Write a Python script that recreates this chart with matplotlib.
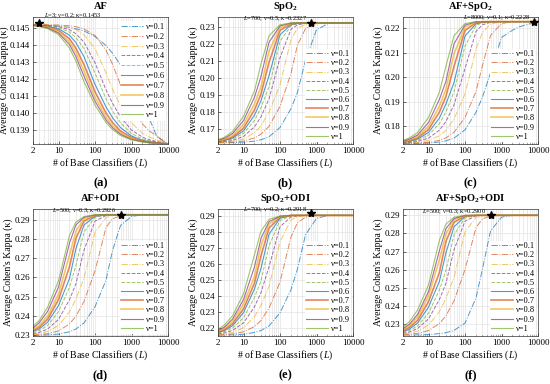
import matplotlib
matplotlib.use('Agg')
import matplotlib.pyplot as plt
from matplotlib.ticker import NullFormatter, FixedLocator

plt.rcParams['font.family'] = 'Liberation Serif'
plt.rcParams['mathtext.fontset'] = 'custom'
plt.rcParams['mathtext.rm'] = 'Liberation Serif'
plt.rcParams['mathtext.it'] = 'Liberation Serif:italic'
plt.rcParams['mathtext.bf'] = 'Liberation Serif:bold'

# number of base classifiers (x axis)
L_vals = [2, 3, 5, 10, 20, 30, 50, 100, 200, 300, 500, 1000, 2000, 3000, 5000, 10000]
nu_labels = ['ν=0.1', 'ν=0.2', 'ν=0.3', 'ν=0.4', 'ν=0.5', 'ν=0.6', 'ν=0.7', 'ν=0.8', 'ν=0.9', 'ν=1']

# average kappa per nu (rows) and L (columns)
kappa_af = [
    [0.14518, 0.14517, 0.14516, 0.14512, 0.14504, 0.14496, 0.14483, 0.14451, 0.14398, 0.14353, 0.14283, 0.14170, 0.14038, 0.13975, 0.13862, 0.13820],
    [0.14520, 0.14530, 0.14519, 0.14518, 0.14514, 0.14508, 0.14495, 0.14456, 0.14371, 0.14289, 0.14167, 0.14034, 0.13938, 0.13898, 0.13866, 0.13820],
    [0.14519, 0.14519, 0.14518, 0.14514, 0.14503, 0.14490, 0.14460, 0.14380, 0.14237, 0.14142, 0.14045, 0.13944, 0.13882, 0.13862, 0.13844, 0.13820],
    [0.14519, 0.14518, 0.14516, 0.14509, 0.14490, 0.14467, 0.14417, 0.14297, 0.14138, 0.14060, 0.13978, 0.13902, 0.13860, 0.13845, 0.13835, 0.13820],
    [0.14518, 0.14517, 0.14514, 0.14503, 0.14476, 0.14444, 0.14380, 0.14237, 0.14085, 0.14015, 0.13944, 0.13882, 0.13849, 0.13839, 0.13831, 0.13820],
    [0.14518, 0.14516, 0.14511, 0.14496, 0.14458, 0.14415, 0.14332, 0.14170, 0.14038, 0.13975, 0.13916, 0.13867, 0.13842, 0.13834, 0.13828, 0.13820],
    [0.14517, 0.14514, 0.14507, 0.14487, 0.14437, 0.14382, 0.14285, 0.14126, 0.14002, 0.13947, 0.13896, 0.13858, 0.13837, 0.13831, 0.13826, 0.13820],
    [0.14516, 0.14512, 0.14505, 0.14478, 0.14418, 0.14356, 0.14247, 0.14094, 0.13978, 0.13928, 0.13885, 0.13851, 0.13835, 0.13829, 0.13825, 0.13820],
    [0.14515, 0.14511, 0.14501, 0.14471, 0.14403, 0.14332, 0.14217, 0.14071, 0.13961, 0.13916, 0.13877, 0.13847, 0.13834, 0.13828, 0.13825, 0.13820],
    [0.14514, 0.14510, 0.14497, 0.14462, 0.14382, 0.14306, 0.14185, 0.14048, 0.13946, 0.13905, 0.13870, 0.13844, 0.13831, 0.13827, 0.13823, 0.13820],
]

kappa_spo2 = [
    [0.1615, 0.1615, 0.1616, 0.1619, 0.1625, 0.1633, 0.1651, 0.1706, 0.1818, 0.1914, 0.2106, 0.2286, 0.2321, 0.2327, 0.2327, 0.2327],
    [0.1616, 0.1617, 0.1619, 0.1626, 0.1644, 0.1666, 0.1713, 0.1831, 0.2028, 0.2195, 0.2293, 0.2322, 0.2327, 0.2327, 0.2327, 0.2327],
    [0.1617, 0.1619, 0.1624, 0.1638, 0.1675, 0.1715, 0.1797, 0.1959, 0.2229, 0.2295, 0.2319, 0.2327, 0.2327, 0.2327, 0.2327, 0.2327],
    [0.1619, 0.1622, 0.1629, 0.1653, 0.1710, 0.1769, 0.1876, 0.2121, 0.2289, 0.2315, 0.2325, 0.2327, 0.2327, 0.2327, 0.2327, 0.2327],
    [0.1620, 0.1626, 0.1637, 0.1671, 0.1747, 0.1824, 0.1947, 0.2217, 0.2310, 0.2322, 0.2327, 0.2327, 0.2327, 0.2327, 0.2327, 0.2327],
    [0.1622, 0.1629, 0.1643, 0.1686, 0.1779, 0.1864, 0.2014, 0.2256, 0.2317, 0.2324, 0.2327, 0.2327, 0.2327, 0.2327, 0.2327, 0.2327],
    [0.1624, 0.1632, 0.1649, 0.1702, 0.1811, 0.1903, 0.2093, 0.2283, 0.2321, 0.2326, 0.2327, 0.2327, 0.2327, 0.2327, 0.2327, 0.2327],
    [0.1627, 0.1636, 0.1658, 0.1723, 0.1846, 0.1946, 0.2160, 0.2299, 0.2323, 0.2327, 0.2327, 0.2327, 0.2327, 0.2327, 0.2327, 0.2327],
    [0.1631, 0.1642, 0.1670, 0.1747, 0.1886, 0.2007, 0.2212, 0.2309, 0.2326, 0.2327, 0.2327, 0.2327, 0.2327, 0.2327, 0.2327, 0.2327],
    [0.1634, 0.1648, 0.1682, 0.1772, 0.1924, 0.2082, 0.2251, 0.2316, 0.2327, 0.2327, 0.2327, 0.2327, 0.2327, 0.2327, 0.2327, 0.2327],
]

kappa_af_spo2 = [
    [0.1728, 0.1728, 0.1729, 0.1730, 0.1734, 0.1739, 0.1750, 0.1784, 0.1856, 0.1918, 0.2018, 0.2163, 0.2193, 0.2206, 0.2216, 0.2228],
    [0.1728, 0.1729, 0.1730, 0.1733, 0.1741, 0.1751, 0.1774, 0.1835, 0.1941, 0.2047, 0.2171, 0.2220, 0.2228, 0.2228, 0.2228, 0.2228],
    [0.1729, 0.1730, 0.1733, 0.1740, 0.1760, 0.1782, 0.1828, 0.1931, 0.2116, 0.2183, 0.2218, 0.2228, 0.2228, 0.2228, 0.2228, 0.2228],
    [0.1730, 0.1732, 0.1737, 0.1750, 0.1783, 0.1818, 0.1887, 0.2035, 0.2188, 0.2215, 0.2225, 0.2228, 0.2228, 0.2228, 0.2228, 0.2228],
    [0.1732, 0.1734, 0.1741, 0.1762, 0.1810, 0.1858, 0.1940, 0.2128, 0.2212, 0.2223, 0.2228, 0.2228, 0.2228, 0.2228, 0.2228, 0.2228],
    [0.1733, 0.1737, 0.1746, 0.1773, 0.1833, 0.1890, 0.1978, 0.2169, 0.2219, 0.2225, 0.2228, 0.2228, 0.2228, 0.2228, 0.2228, 0.2228],
    [0.1734, 0.1739, 0.1751, 0.1785, 0.1858, 0.1921, 0.2045, 0.2192, 0.2223, 0.2227, 0.2228, 0.2228, 0.2228, 0.2228, 0.2228, 0.2228],
    [0.1736, 0.1742, 0.1757, 0.1798, 0.1882, 0.1951, 0.2096, 0.2206, 0.2225, 0.2228, 0.2228, 0.2228, 0.2228, 0.2228, 0.2228, 0.2228],
    [0.1738, 0.1746, 0.1763, 0.1814, 0.1910, 0.1983, 0.2137, 0.2214, 0.2227, 0.2228, 0.2228, 0.2228, 0.2228, 0.2228, 0.2228, 0.2228],
    [0.1741, 0.1751, 0.1773, 0.1835, 0.1940, 0.2045, 0.2170, 0.2220, 0.2228, 0.2228, 0.2228, 0.2228, 0.2228, 0.2228, 0.2228, 0.2228],
]

kappa_af_odi = [
    [0.2298, 0.2299, 0.2301, 0.2305, 0.2317, 0.2331, 0.2363, 0.2447, 0.2585, 0.2737, 0.2869, 0.2916, 0.2925, 0.2925, 0.2925, 0.2925],
    [0.2301, 0.2302, 0.2307, 0.2321, 0.2358, 0.2398, 0.2475, 0.2633, 0.2859, 0.2904, 0.2920, 0.2925, 0.2925, 0.2925, 0.2925, 0.2925],
    [0.2303, 0.2307, 0.2318, 0.2349, 0.2420, 0.2487, 0.2596, 0.2834, 0.2911, 0.2921, 0.2926, 0.2925, 0.2925, 0.2925, 0.2925, 0.2925],
    [0.2307, 0.2314, 0.2331, 0.2381, 0.2484, 0.2566, 0.2742, 0.2892, 0.2921, 0.2925, 0.2925, 0.2925, 0.2925, 0.2925, 0.2925, 0.2925],
    [0.2312, 0.2323, 0.2349, 0.2421, 0.2548, 0.2662, 0.2836, 0.2911, 0.2924, 0.2925, 0.2925, 0.2925, 0.2925, 0.2925, 0.2925, 0.2925],
    [0.2318, 0.2332, 0.2366, 0.2453, 0.2594, 0.2749, 0.2872, 0.2917, 0.2925, 0.2925, 0.2925, 0.2925, 0.2925, 0.2925, 0.2925, 0.2925],
    [0.2323, 0.2341, 0.2382, 0.2484, 0.2655, 0.2803, 0.2892, 0.2921, 0.2925, 0.2925, 0.2925, 0.2925, 0.2925, 0.2925, 0.2925, 0.2925],
    [0.2328, 0.2351, 0.2398, 0.2512, 0.2716, 0.2840, 0.2904, 0.2922, 0.2925, 0.2925, 0.2925, 0.2925, 0.2925, 0.2925, 0.2925, 0.2925],
    [0.2336, 0.2365, 0.2422, 0.2549, 0.2778, 0.2872, 0.2912, 0.2924, 0.2925, 0.2925, 0.2925, 0.2925, 0.2925, 0.2925, 0.2925, 0.2925],
    [0.2345, 0.2377, 0.2444, 0.2582, 0.2818, 0.2887, 0.2916, 0.2925, 0.2925, 0.2925, 0.2925, 0.2925, 0.2925, 0.2925, 0.2925, 0.2925],
]

kappa_spo2_odi = [
    [0.2155, 0.2156, 0.2157, 0.2161, 0.2172, 0.2184, 0.2213, 0.2295, 0.2440, 0.2568, 0.2784, 0.2886, 0.2904, 0.2905, 0.2905, 0.2905],
    [0.2157, 0.2159, 0.2163, 0.2176, 0.2209, 0.2247, 0.2325, 0.2487, 0.2770, 0.2859, 0.2894, 0.2905, 0.2905, 0.2905, 0.2905, 0.2905],
    [0.2160, 0.2163, 0.2173, 0.2202, 0.2271, 0.2341, 0.2460, 0.2740, 0.2877, 0.2896, 0.2905, 0.2905, 0.2905, 0.2905, 0.2905, 0.2905],
    [0.2163, 0.2169, 0.2185, 0.2232, 0.2333, 0.2421, 0.2583, 0.2834, 0.2895, 0.2902, 0.2905, 0.2905, 0.2905, 0.2905, 0.2905, 0.2905],
    [0.2167, 0.2177, 0.2199, 0.2264, 0.2391, 0.2494, 0.2714, 0.2873, 0.2901, 0.2905, 0.2905, 0.2905, 0.2905, 0.2905, 0.2905, 0.2905],
    [0.2172, 0.2184, 0.2214, 0.2296, 0.2444, 0.2572, 0.2787, 0.2887, 0.2904, 0.2905, 0.2905, 0.2905, 0.2905, 0.2905, 0.2905, 0.2905],
    [0.2175, 0.2190, 0.2226, 0.2320, 0.2481, 0.2650, 0.2826, 0.2893, 0.2905, 0.2905, 0.2905, 0.2905, 0.2905, 0.2905, 0.2905, 0.2905],
    [0.2181, 0.2199, 0.2241, 0.2350, 0.2523, 0.2714, 0.2851, 0.2898, 0.2905, 0.2905, 0.2905, 0.2905, 0.2905, 0.2905, 0.2905, 0.2905],
    [0.2185, 0.2206, 0.2256, 0.2378, 0.2583, 0.2760, 0.2866, 0.2900, 0.2905, 0.2905, 0.2905, 0.2905, 0.2905, 0.2905, 0.2905, 0.2905],
    [0.2191, 0.2219, 0.2276, 0.2414, 0.2659, 0.2806, 0.2880, 0.2901, 0.2905, 0.2905, 0.2905, 0.2905, 0.2905, 0.2905, 0.2905, 0.2905],
]

kappa_all = [
    [0.2240, 0.2240, 0.2241, 0.2243, 0.2248, 0.2253, 0.2266, 0.2306, 0.2445, 0.2603, 0.2814, 0.2890, 0.2900, 0.2900, 0.2900, 0.2900],
    [0.2243, 0.2245, 0.2249, 0.2265, 0.2304, 0.2346, 0.2429, 0.2601, 0.2833, 0.2880, 0.2897, 0.2900, 0.2900, 0.2900, 0.2900, 0.2900],
    [0.2245, 0.2250, 0.2261, 0.2295, 0.2370, 0.2443, 0.2558, 0.2809, 0.2888, 0.2897, 0.2900, 0.2900, 0.2900, 0.2900, 0.2900, 0.2900],
    [0.2250, 0.2257, 0.2276, 0.2329, 0.2437, 0.2525, 0.2710, 0.2868, 0.2897, 0.2900, 0.2900, 0.2900, 0.2900, 0.2900, 0.2900, 0.2900],
    [0.2254, 0.2265, 0.2290, 0.2361, 0.2490, 0.2597, 0.2793, 0.2885, 0.2900, 0.2900, 0.2900, 0.2900, 0.2900, 0.2900, 0.2900, 0.2900],
    [0.2259, 0.2273, 0.2306, 0.2394, 0.2538, 0.2693, 0.2837, 0.2893, 0.2900, 0.2900, 0.2900, 0.2900, 0.2900, 0.2900, 0.2900, 0.2900],
    [0.2264, 0.2282, 0.2321, 0.2424, 0.2587, 0.2756, 0.2862, 0.2896, 0.2900, 0.2900, 0.2900, 0.2900, 0.2900, 0.2900, 0.2900, 0.2900],
    [0.2270, 0.2292, 0.2339, 0.2455, 0.2657, 0.2798, 0.2876, 0.2898, 0.2900, 0.2900, 0.2900, 0.2900, 0.2900, 0.2900, 0.2900, 0.2900],
    [0.2275, 0.2300, 0.2354, 0.2480, 0.2707, 0.2827, 0.2883, 0.2900, 0.2900, 0.2900, 0.2900, 0.2900, 0.2900, 0.2900, 0.2900, 0.2900],
    [0.2283, 0.2314, 0.2378, 0.2516, 0.2764, 0.2852, 0.2890, 0.2900, 0.2900, 0.2900, 0.2900, 0.2900, 0.2900, 0.2900, 0.2900, 0.2900],
]

titles = ['AF', r'SpO$_\mathbf{2}$', r'AF+SpO$_\mathbf{2}$', 'AF+ODI', r'SpO$_\mathbf{2}$+ODI', r'AF+SpO$_\mathbf{2}$+ODI']
panel_tags = ['(a)', '(b)', '(c)', '(d)', '(e)', '(f)']
best_L = [3, 700, 8000, 500, 700, 500]
best_nu = ['0.2', '0.5', '0.1', '0.3', '0.2', '0.3']
best_k = [0.1453, 0.2327, 0.2228, 0.2926, 0.2918, 0.2900]
y_lims = [(0.1382, 0.14565), (0.1608, 0.2362), (0.1726, 0.2247),
          (0.2295, 0.2955), (0.2150, 0.2945), (0.2235, 0.2935)]
y_ticks = [[0.139, 0.140, 0.141, 0.142, 0.143, 0.144, 0.145],
           [0.17, 0.18, 0.19, 0.20, 0.21, 0.22, 0.23],
           [0.18, 0.19, 0.20, 0.21, 0.22],
           [0.23, 0.24, 0.25, 0.26, 0.27, 0.28, 0.29],
           [0.22, 0.23, 0.24, 0.25, 0.26, 0.27, 0.28, 0.29],
           [0.23, 0.24, 0.25, 0.26, 0.27, 0.28, 0.29]]

all_kappa = [kappa_af, kappa_spo2, kappa_af_spo2, kappa_af_odi, kappa_spo2_odi, kappa_all]

matlab = ['#0072BD', '#D95319', '#EDB120', '#7E2F8E', '#77AC30']
line_colors = matlab + matlab
line_styles = ['-.', '-.', '-.', '--', '--', '-', '-', '-', '-', '-']
line_widths = [0.7, 0.7, 0.7, 0.7, 0.7, 0.8, 1.2, 1.2, 0.8, 0.8]

W, H = 550, 384
fig = plt.figure(figsize=(5.5, 3.84), dpi=100)
lefts = [33, 218, 403]
tops = [17, 209]
aw, ah = 135, 127

for i in range(6):
    r, c = divmod(i, 3)
    x0 = lefts[c]
    y0 = tops[r]
    ax = fig.add_axes([x0 / W, 1 - (y0 + ah) / H, aw / W, ah / H])
    for j in range(10):
        ax.plot(L_vals, all_kappa[i][j], color=line_colors[j], ls=line_styles[j],
                lw=line_widths[j], alpha=0.7, label=nu_labels[j])
    ax.set_xscale('log')
    ax.set_xlim(2, 10000)
    ax.set_ylim(*y_lims[i])
    ax.xaxis.set_major_locator(FixedLocator([2, 10, 100, 1000, 10000]))
    ax.set_xticklabels(['2', '10', '100', '1000', '10000'])
    ax.xaxis.set_minor_formatter(NullFormatter())
    ax.set_yticks(y_ticks[i])
    fmt = '%.3f' if i == 0 else '%.2f'
    ax.set_yticklabels([fmt % t for t in y_ticks[i]])
    ax.grid(True, which='both', axis='x', color='#e3e3e3', lw=0.5)
    ax.grid(True, which='major', axis='y', color='#e3e3e3', lw=0.5)
    ax.set_axisbelow(True)
    ax.tick_params(which='both', direction='in', labelsize=6.5, pad=2, width=0.5, color='#333333')
    ax.tick_params(which='major', length=2)
    ax.tick_params(which='minor', length=1)
    for s in ax.spines.values():
        s.set_linewidth(0.5)
        s.set_color('#333333')
    ax.set_xlabel('# of Base Classifiers ($L$)', fontsize=7, labelpad=1)
    ax.set_ylabel("Average Cohen's Kappa (κ)", fontsize=7, labelpad=1)
    ax.set_title(titles[i], fontsize=7.5, fontweight='bold', pad=5.5)

    ax.plot([best_L[i]], [best_k[i]], marker='*', color='black', ms=6, clip_on=False, zorder=5)
    txt = '$L$=%d; ν=%s; κ=%.4f' % (best_L[i], best_nu[i], best_k[i])
    if i == 0:
        ax.annotate(txt, (best_L[i], best_k[i]), xytext=(3, 5.5), textcoords='offset points',
                    fontsize=4.6, ha='left', va='center')
        leg = ax.legend(loc='upper right', bbox_to_anchor=(1.0, 0.98), fontsize=6,
                        handlelength=2.6, handletextpad=0.3, labelspacing=0.22,
                        borderpad=0.2, borderaxespad=0.2, frameon=True)
    else:
        ax.annotate(txt, (best_L[i], best_k[i]), xytext=(-3, 3), textcoords='offset points',
                    fontsize=4.6, ha='right', va='center')
        leg = ax.legend(loc='lower right', bbox_to_anchor=(1.0, 0.0), fontsize=6,
                        handlelength=2.6, handletextpad=0.3, labelspacing=0.14,
                        borderpad=0.2, borderaxespad=0.2, frameon=True)
    leg.get_frame().set_edgecolor('white')
    leg.get_frame().set_linewidth(0)
    leg.get_frame().set_alpha(1)

    fig.text((x0 + aw / 2) / W, 1 - (y0 + 166) / H, panel_tags[i], ha='center', va='center',
             fontsize=9, fontweight='bold')

fig.savefig('out.png', dpi=100)
